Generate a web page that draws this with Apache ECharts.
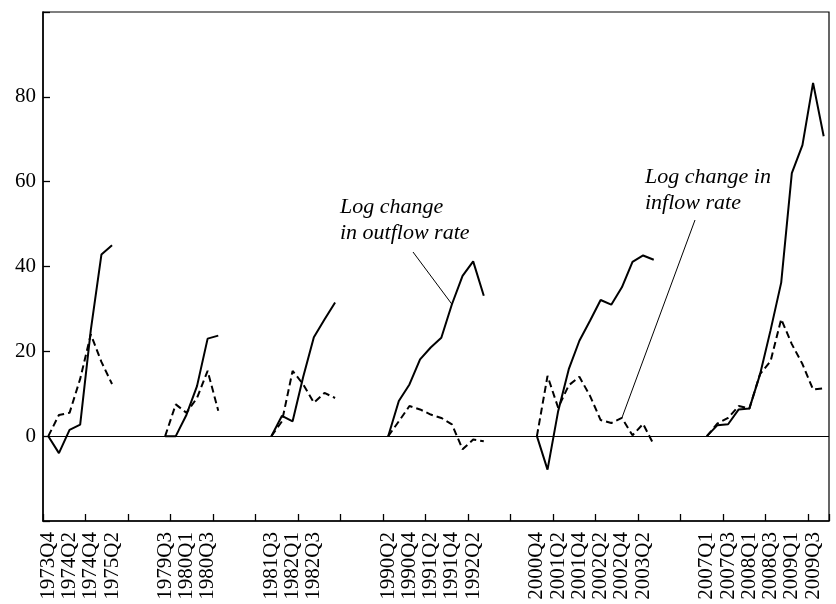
<!DOCTYPE html>
<html>
<head>
<meta charset="utf-8">
<script src="https://cdn.jsdelivr.net/npm/echarts@6/dist/echarts.min.js"></script>
<style>
html,body{margin:0;padding:0;background:#fff;}
#chart{width:836px;height:604px;}
</style>
</head>
<body>
<div id="chart"></div>
<script>
// Episode start quarters
const episodeStarts = ['1973Q4', '1979Q3', '1981Q3', '1990Q2', '2000Q4', '2007Q1'];

// Log change in outflow rate (solid), per episode
const outflow1973 = [0, -4, 1.5, 2.7, 25, 42.8, 45];
const outflow1979 = [0, 0, 5, 11.8, 23, 23.7];
const outflow1981 = [0, 4.8, 3.5, 14, 23.3, 27.5, 31.5];
const outflow1990 = [0, 8.3, 12.2, 18.1, 20.9, 23.2, 31.1, 37.8, 41.2, 33.1];
const outflow2000 = [0, -7.9, 5.9, 15.8, 22.5, 27.2, 32.1, 31, 35.1, 41.1, 42.6, 41.6];
const outflow2007 = [0, 2.6, 2.8, 6.3, 6.5, 14.5, 25, 36.2, 62, 68.6, 83.3, 70.7];

// Log change in inflow rate (dashed), per episode
const inflow1973 = [0, 5, 5.5, 13.5, 24, 17.5, 12.3];
const inflow1979 = [0, 7.5, 5.5, 9, 15.4, 6];
const inflow1981 = [0, 3.5, 15.4, 12.2, 7.9, 10.2, 9];
const inflow1990 = [0, 3.5, 7.1, 6.3, 5.1, 4.3, 2.8, -3.1, -0.8, -1.2];
const inflow2000 = [0, 14.2, 6.7, 12, 14, 9.5, 3.8, 3.1, 4.3, 0.2, 2.9, -2];
const inflow2007 = [0, 3, 4.3, 7.1, 6.5, 14.6, 17.7, 27.6, 21.7, 17, 11, 11.3];

// Tick labels shown on the x axis
const tickLabels = ['1973Q4','1974Q2','1974Q4','1975Q2',
  '1979Q3','1980Q1','1980Q3',
  '1981Q3','1982Q1','1982Q3',
  '1990Q2','1990Q4','1991Q2','1991Q4','1992Q2',
  '2000Q4','2001Q2','2001Q4','2002Q2','2002Q4','2003Q2',
  '2007Q1','2007Q3','2008Q1','2008Q3','2009Q1','2009Q3'];

const yTicks = [0, 20, 40, 60, 80];
const gapLength = 4;

const outflowEpisodes = [outflow1973, outflow1979, outflow1981, outflow1990, outflow2000, outflow2007];
const inflowEpisodes = [inflow1973, inflow1979, inflow1981, inflow1990, inflow2000, inflow2007];

function quarterSeq(start, n) {
  let y = parseInt(start.slice(0, 4), 10);
  let q = parseInt(start.slice(5), 10);
  const out = [];
  for (let i = 0; i < n; i++) {
    out.push(y + 'Q' + q);
    q++;
    if (q > 4) { q = 1; y++; }
  }
  return out;
}

const categories = [];
const outflowData = [];
const inflowData = [];
episodeStarts.forEach((s, e) => {
  if (e > 0) {
    for (let g = 0; g < gapLength; g++) {
      categories.push('');
      outflowData.push(null);
      inflowData.push(null);
    }
  }
  const qs = quarterSeq(s, outflowEpisodes[e].length);
  qs.forEach((lab, i) => {
    categories.push(lab);
    outflowData.push(outflowEpisodes[e][i]);
    inflowData.push(inflowEpisodes[e][i]);
  });
});

const FONT = '"Liberation Serif", "Times New Roman", serif';

const chart = echarts.init(document.getElementById('chart'), null, { renderer: 'canvas' });
chart.setOption({
  animation: false,
  backgroundColor: '#fff',
  grid: {
    left: 43, right: 7, top: 12, bottom: 83,
    show: true, borderColor: '#000', borderWidth: 1.2,
    containLabel: false, outerBoundsMode: 'none'
  },
  xAxis: {
    type: 'category',
    data: categories,
    boundaryGap: true,
    axisLine: { show: true, onZero: false, lineStyle: { color: '#000', width: 1.5 } },
    axisTick: { show: true, inside: true, length: 7, interval: 3, alignWithLabel: false, lineStyle: { color: '#000', width: 1.3 } },
    axisLabel: {
      show: true,
      rotate: 90,
      margin: 11,
      color: '#000',
      fontFamily: FONT,
      fontSize: 21,
      interval: function (idx, val) { return tickLabels.indexOf(val) >= 0; }
    },
    splitLine: { show: false }
  },
  yAxis: {
    type: 'value',
    min: -20, max: 100, interval: 20,
    axisLine: { show: true, lineStyle: { color: '#000', width: 1.5 } },
    axisTick: { show: true, inside: true, length: 7, lineStyle: { color: '#000', width: 1.3 } },
    axisLabel: {
      color: '#000', fontFamily: FONT, fontSize: 21, margin: 7,
      formatter: function (v) { return yTicks.indexOf(v) >= 0 ? String(v) : ''; }
    },
    splitLine: { show: false }
  },
  series: [
    {
      name: 'Log change in outflow rate',
      type: 'line',
      data: outflowData,
      connectNulls: false,
      symbol: 'none',
      lineStyle: { color: '#000', width: 2, type: 'solid' },
      z: 3,
      markLine: {
        silent: true,
        symbol: ['none', 'none'],
        label: { show: false },
        animation: false,
        data: [
          { yAxis: 0, lineStyle: { color: '#000', width: 1.2, type: 'solid' } },
          [
            { coord: ['1991Q4', outflow1990[6]], lineStyle: { color: '#000', width: 1, type: 'solid' } },
            { x: 413, y: 252 }
          ]
        ]
      }
    },
    {
      name: 'Log change in inflow rate',
      type: 'line',
      data: inflowData,
      connectNulls: false,
      symbol: 'none',
      lineStyle: { color: '#000', width: 2, type: [7, 4] },
      z: 3,
      markLine: {
        silent: true,
        symbol: ['none', 'none'],
        label: { show: false },
        animation: false,
        data: [
          [
            { coord: ['2002Q4', inflow2000[8]], lineStyle: { color: '#000', width: 1, type: 'solid' } },
            { x: 695, y: 220 }
          ]
        ]
      }
    }
  ],
  graphic: [
    {
      type: 'text', left: 340, top: 194,
      style: { text: 'Log change\nin outflow rate', font: 'italic 22px ' + FONT, lineHeight: 26, fill: '#000' }
    },
    {
      type: 'text', left: 645, top: 164,
      style: { text: 'Log change in\ninflow rate', font: 'italic 22px ' + FONT, lineHeight: 26, fill: '#000' }
    }
  ]
});
</script>
</body>
</html>
